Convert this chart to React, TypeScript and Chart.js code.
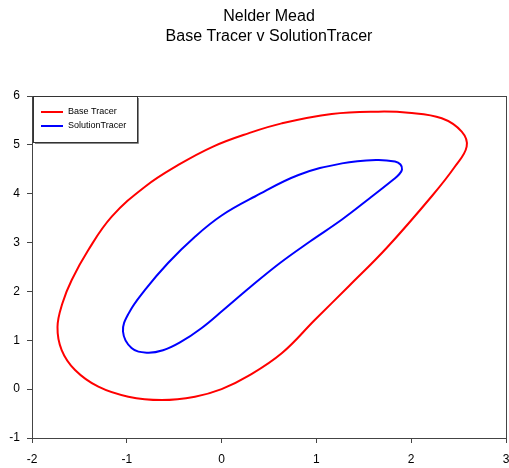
import React, { useEffect, useRef } from "react";
import { Chart, registerables } from "chart.js";

Chart.register(...registerables);

const titleLines = ["Nelder Mead", "Base Tracer v SolutionTracer"];
const seriesNames = ["Base Tracer", "SolutionTracer"];
const seriesColors = ["#ff0000", "#0000ff"];

// closed loops (first point is not repeated)
const baseX = [0.985, 1.344, 1.745, 2.219, 2.462, 2.585, 2.533, 2.322, 1.97, 1.653, 1.161, 0.634, 0.282, -0.09, -0.457, -0.808, -1.159, -1.406, -1.581, -1.678, -1.731, -1.687, -1.546, -1.3, -0.984, -0.632, -0.281, 0.0, 0.282, 0.634];
const baseY = [1.42, 2.111, 2.899, 3.953, 4.557, 4.963, 5.27, 5.544, 5.658, 5.68, 5.632, 5.44, 5.236, 4.965, 4.588, 4.144, 3.53, 2.848, 2.234, 1.763, 1.272, 0.8, 0.392, 0.05, -0.154, -0.222, -0.154, 0.0, 0.27, 0.734];

const solX = [0.616, 0.932, 1.27, 1.565, 1.819, 1.871, 1.903, 1.887, 1.829, 1.629, 1.27, 0.811, 0.352, 0.0, -0.281, -0.565, -0.808, -0.98, -1.04, -0.95, -0.79, -0.618, -0.439, -0.217, 0.018, 0.3];
const solY = [2.582, 3.022, 3.472, 3.912, 4.301, 4.393, 4.496, 4.598, 4.659, 4.69, 4.621, 4.383, 3.943, 3.554, 3.12, 2.582, 2.03, 1.551, 1.18, 0.842, 0.746, 0.795, 0.955, 1.242, 1.62, 2.085];

const xTicks = [-2, -1, 0, 1, 2, 3];
const yTicks = [-1, 0, 1, 2, 3, 4, 5, 6];

const FONT = "'Liberation Sans', Arial, sans-serif";

function loopPoints(xs: number[], ys: number[]) {
  const n = xs.length;
  const idx = [n - 1, ...xs.map((_, i) => i), 0, 1];
  return idx.map((i) => ({ x: xs[i], y: ys[i] }));
}

export default function App() {
  const ref = useRef<HTMLCanvasElement | null>(null);
  useEffect(() => {
    document.body.style.margin = "0";
    const canvas = ref.current!;
    const makeDs = (label: string, color: string, xs: number[], ys: number[]) => {
      const data = loopPoints(xs, ys);
      const lastSeg = data.length - 2;
      return {
        label,
        data,
        borderColor: color,
        showLine: true,
        pointRadius: 0,
        borderWidth: 2,
        tension: 0.4,
        segment: {
          borderColor: (c: any) => (c.p0DataIndex === 0 || c.p0DataIndex === lastSeg ? "rgba(0,0,0,0)" : color),
        },
      };
    };
    const framePlugin = {
      id: "frame",
      afterDraw(chart: any) {
        const { ctx, chartArea } = chart;
        const { left, right, top, bottom } = chartArea;
        ctx.save();
        ctx.strokeStyle = "#444";
        ctx.lineWidth = 1;
        ctx.strokeRect(Math.round(left) + 0.5, Math.round(top) + 0.5, Math.round(right - left), Math.round(bottom - top));
        ctx.fillStyle = "#000";
        ctx.font = `16px ${FONT}`;
        ctx.textAlign = "center";
        ctx.textBaseline = "middle";
        const cx = (left + right) / 2;
        ctx.fillText(titleLines[0], cx, 17);
        ctx.fillText(titleLines[1], cx, 37);
        const lx = Math.round(left) + 1, ly = Math.round(top);
        const lw = 104, lh = 46;
        ctx.fillStyle = "#fff";
        ctx.fillRect(lx, ly, lw, lh);
        ctx.strokeStyle = "#333";
        ctx.strokeRect(lx + 0.5, ly + 0.5, lw, lh);
        ctx.strokeStyle = "#888";
        ctx.beginPath();
        ctx.moveTo(lx + lw + 1.5, ly + 2);
        ctx.lineTo(lx + lw + 1.5, ly + lh + 1.5);
        ctx.lineTo(lx + 2, ly + lh + 1.5);
        ctx.stroke();
        ctx.font = `9px ${FONT}`;
        ctx.textAlign = "left";
        chart.data.datasets.forEach((ds: any, i: number) => {
          const yy = ly + 16 + i * 14;
          ctx.strokeStyle = ds.borderColor;
          ctx.lineWidth = 2;
          ctx.beginPath();
          ctx.moveTo(lx + 8, yy);
          ctx.lineTo(lx + 30, yy);
          ctx.stroke();
          ctx.fillStyle = "#000";
          ctx.fillText(ds.label, lx + 35, yy);
        });
        ctx.restore();
      },
    };
    const chart = new Chart(canvas, {
      type: "scatter",
      data: {
        datasets: [
          makeDs(seriesNames[0], seriesColors[0], baseX, baseY),
          makeDs(seriesNames[1], seriesColors[1], solX, solY),
        ],
      },
      options: {
        animation: false,
        responsive: false,
        layout: { padding: { top: 96, right: 3, left: 0, bottom: 0 } },
        plugins: { legend: { display: false }, title: { display: false }, tooltip: { enabled: false } },
        scales: {
          x: {
            type: "linear",
            min: xTicks[0],
            max: xTicks[xTicks.length - 1],
            afterBuildTicks: (s: any) => { s.ticks = xTicks.map((v) => ({ value: v })); },
            afterFit: (s: any) => { s.height = 30; s.paddingLeft = 0; s.paddingRight = 0; },
            grid: { drawOnChartArea: false, tickLength: 5, color: "#444" },
            border: { color: "#444" },
            ticks: { color: "#000", font: { size: 12, family: FONT }, padding: 9, maxRotation: 0 },
          },
          y: {
            type: "linear",
            min: yTicks[0],
            max: yTicks[yTicks.length - 1],
            afterBuildTicks: (s: any) => { s.ticks = yTicks.map((v) => ({ value: v })); },
            afterFit: (s: any) => { s.width = 32; s.paddingTop = 0; s.paddingBottom = 0; },
            grid: { drawOnChartArea: false, tickLength: 5, color: "#444" },
            border: { color: "#444" },
            ticks: { color: "#000", font: { size: 12, family: FONT }, padding: 7 },
          },
        },
      },
      plugins: [framePlugin],
    });
    return () => chart.destroy();
  }, []);
  return (
    <div style={{ width: 509, height: 468 }}>
      <canvas ref={ref} width={509} height={468} style={{ display: "block" }} />
    </div>
  );
}
